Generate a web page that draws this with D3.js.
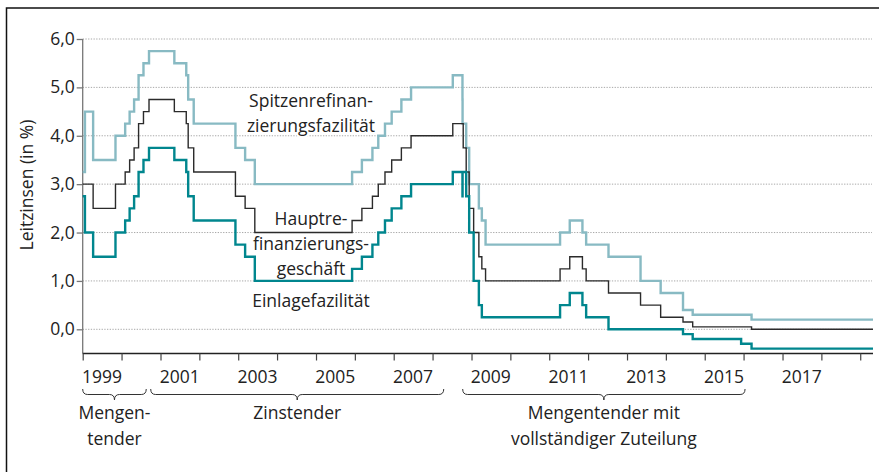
<!DOCTYPE html>
<html>
<head>
<meta charset="utf-8">
<script src="https://cdn.jsdelivr.net/npm/d3@7"></script>
<style>
  html, body { margin: 0; padding: 0; background: #fff; }
  svg { display: block; font-family: "Open Sans", sans-serif; }
</style>
</head>
<body>
<svg id="chart" width="879" height="472"></svg>
<script>
// Leitzinsen der EZB, Stichtage der Zinsänderungen
const changeDates = [
  "1999-01-01", "1999-01-22", "1999-04-09", "1999-11-05", "2000-02-04", "2000-03-17",
  "2000-04-28", "2000-06-09", "2000-07-25", "2000-09-15", "2001-05-11", "2001-08-31",
  "2001-09-18", "2001-11-09", "2002-12-06", "2003-03-07", "2003-06-06", "2005-12-06",
  "2006-03-08", "2006-06-15", "2006-08-09", "2006-10-11", "2006-12-13", "2007-03-14",
  "2007-06-13", "2008-07-09", "2008-10-08", "2008-10-09", "2008-10-15", "2008-11-12",
  "2008-12-10", "2009-01-21", "2009-03-11", "2009-04-08", "2009-05-13", "2011-04-13",
  "2011-07-13", "2011-11-09", "2011-12-14", "2012-07-11", "2013-05-08", "2013-11-13",
  "2014-06-11", "2014-09-10", "2015-12-09", "2016-03-16", "2019-05-01"
]
// Spitzenrefinanzierungsfazilität
const spitzenRates = [
  3.25, 4.50, 3.50, 4.00, 4.25, 4.50, 4.75, 5.25, 5.50, 5.75, 5.50, 5.25,
  4.75, 4.25, 3.75, 3.50, 3.00, 3.25, 3.50, 3.75, 4.00, 4.25, 4.50, 4.75,
  5.00, 5.25, 4.75, 4.25, 4.25, 3.75, 3.00, 3.00, 2.50, 2.25, 1.75, 2.00,
  2.25, 2.00, 1.75, 1.50, 1.00, 0.75, 0.40, 0.30, 0.30, 0.20, 0.20
]
// Hauptrefinanzierungsgeschäft
const hauptRates = [
  3.00, 3.00, 2.50, 3.00, 3.25, 3.50, 3.75, 4.25, 4.50, 4.75, 4.50, 4.25,
  3.75, 3.25, 2.75, 2.50, 2.00, 2.25, 2.50, 2.75, 3.00, 3.25, 3.50, 3.75,
  4.00, 4.25, 4.25, 4.25, 3.75, 3.25, 2.50, 2.00, 1.50, 1.25, 1.00, 1.25,
  1.50, 1.25, 1.00, 0.75, 0.50, 0.25, 0.15, 0.05, 0.05, 0.00, 0.00
]
// Einlagefazilität
const einlageRates = [
  2.75, 2.00, 1.50, 2.00, 2.25, 2.50, 2.75, 3.25, 3.50, 3.75, 3.50, 3.25,
  2.75, 2.25, 1.75, 1.50, 1.00, 1.25, 1.50, 1.75, 2.00, 2.25, 2.50, 2.75,
  3.00, 3.25, 2.75, 3.25, 3.25, 2.75, 2.00, 1.00, 0.50, 0.25, 0.25, 0.50,
  0.75, 0.50, 0.25, 0.00, 0.00, 0.00, -0.10, -0.20, -0.30, -0.40, -0.40
]

const yTicks = [0, 1, 2, 3, 4, 5, 6]
const yearTicks = d3.range(1999, 2020)
const yearLabels = [1999, 2001, 2003, 2005, 2007, 2009, 2011, 2013, 2015, 2017]

// Phasen der Tenderverfahren (Klammern unter der Achse)
const phaseNames = [["Mengen-", "tender"], ["Zinstender"], ["Mengentender mit", "vollständiger Zuteilung"]]
const phaseStart = ["1999-01-01", "2000-10-01", "2008-10-10"]
const phaseEnd = ["2000-08-20", "2008-04-15", "2016-01-15"]

const parse = d3.utcParse("%Y-%m-%d")
const svg = d3.select("#chart")
const fontSize = 17.5

/* Skalen */
const x = d3.scaleUtc()
  .domain([parse("1999-01-01"), parse("2019-05-01")])
  .range([82.7, 873])
const y = d3.scaleLinear()
  .domain([-0.5, 6])
  .range([353.5, 39])

/* Rahmen oben und links */
svg.append("path")
  .attr("d", "M6.5,472 L6.5,8 L879,8")
  .attr("fill", "none")
  .attr("stroke", "#111")
  .attr("stroke-width", 1.5)

/* Gitterlinien */
svg.append("g").selectAll("line")
  .data(yTicks)
  .join("line")
  .attr("x1", x.range()[0])
  .attr("x2", 872)
  .attr("y1", d => y(d))
  .attr("y2", d => y(d))
  .attr("stroke", "#a8a8a8")
  .attr("stroke-width", 1)
  .attr("stroke-dasharray", "1.3,1.4")

/* y-Achse */
const yAxis = svg.append("g")
  .attr("transform", `translate(${x.range()[0]},0)`)
  .call(d3.axisLeft(y).tickValues(yTicks).tickSize(6).tickPadding(2)
    .tickFormat(d => d3.format(".1f")(d).replace(".", ",")))
yAxis.select(".domain").attr("d", `M0,${y(6)}V${y.range()[0]}`).attr("stroke", "#777").attr("stroke-width", 1.3)
yAxis.selectAll(".tick line").attr("stroke", "#777").attr("stroke-width", 1.3)
yAxis.selectAll(".tick text")
  .attr("font-size", fontSize)
  .attr("font-family", "Open Sans")
  .attr("fill", "#222")

svg.append("text")
  .attr("transform", `translate(32.5,${185}) rotate(-90)`)
  .attr("text-anchor", "middle")
  .attr("font-size", fontSize)
  .attr("fill", "#222")
  .text("Leitzinsen (in %)")

/* x-Achse */
const xAxis = svg.append("g")
  .attr("transform", `translate(0,${y.range()[0]})`)
  .call(d3.axisBottom(x).tickValues(yearTicks.map(d => new Date(Date.UTC(d, 0, 1)))).tickSize(7).tickFormat(""))
xAxis.select(".domain").attr("d", `M${x.range()[0]},0H${x.range()[1]}`).attr("stroke", "#222").attr("stroke-width", 1.5)
xAxis.selectAll(".tick line").attr("stroke", "#444").attr("stroke-width", 1.2)

svg.append("g").selectAll("text")
  .data(yearLabels)
  .join("text")
  .attr("x", d => x(new Date(Date.UTC(d, 6, 1))))
  .attr("y", 382.5)
  .attr("text-anchor", "middle")
  .attr("font-size", fontSize)
  .attr("fill", "#222")
  .text(d => d)

/* Klammern und Phasennamen */
const brace = (x1, x2, y0, h) => {
  const xm = (x1 + x2) / 2, ym = y0 + h / 2, q = 5
  return `M${x1},${y0} Q${x1},${ym} ${x1 + q},${ym} L${xm - q},${ym} Q${xm},${ym} ${xm},${y0 + h}` +
    ` Q${xm},${ym} ${xm + q},${ym} L${x2 - q},${ym} Q${x2},${ym} ${x2},${y0}`
}
const phases = phaseNames.map((n, i) => ({names: n, x1: x(parse(phaseStart[i])), x2: x(parse(phaseEnd[i]))}))

svg.append("g").selectAll("path")
  .data(phases)
  .join("path")
  .attr("d", d => brace(d.x1, d.x2, 389, 11))
  .attr("fill", "none")
  .attr("stroke", "#333")
  .attr("stroke-width", 1)

svg.append("g").selectAll("text")
  .data(phases)
  .join("text")
  .attr("text-anchor", "middle")
  .attr("font-size", fontSize)
  .attr("fill", "#222")
  .each(function(d) {
    d3.select(this).selectAll("tspan")
      .data(d.names)
      .join("tspan")
      .attr("x", (d.x1 + d.x2) / 2)
      .attr("y", (t, i) => 419 + i * 25.5)
      .text(t => t)
  })

/* Beschriftung der Zinslinien */
const seriesLabels = [
  {lines: ["Spitzenrefinan-", "zierungsfazilität"], y: 106.7},
  {lines: ["Hauptre-", "finanzierungs-", "geschäft"], y: 225},
  {lines: ["Einlagefazilität"], y: 307}
]
svg.append("g").selectAll("text")
  .data(seriesLabels)
  .join("text")
  .attr("text-anchor", "middle")
  .attr("font-size", fontSize)
  .attr("fill", "#222")
  .attr("stroke", "#fff")
  .attr("stroke-width", 4)
  .attr("paint-order", "stroke")
  .each(function(d) {
    d3.select(this).selectAll("tspan")
      .data(d.lines)
      .join("tspan")
      .attr("x", 311)
      .attr("y", (t, i) => d.y + i * 24.8)
      .text(t => t)
  })

/* Zinslinien */
const series = [
  {rates: spitzenRates, color: "#88bac3", width: 2.4},
  {rates: hauptRates, color: "#2b2b2b", width: 1.4},
  {rates: einlageRates, color: "#00868e", width: 2.4}
]
const line = d3.line()
  .x(d => x(d[0]))
  .y(d => y(d[1]))
  .curve(d3.curveStepAfter)

svg.append("g").selectAll("path")
  .data(series)
  .join("path")
  .attr("d", s => line(changeDates.map((d, i) => [parse(d), s.rates[i]])))
  .attr("fill", "none")
  .attr("stroke", s => s.color)
  .attr("stroke-width", s => s.width)
  .attr("stroke-linejoin", "miter")
</script>
</body>
</html>
